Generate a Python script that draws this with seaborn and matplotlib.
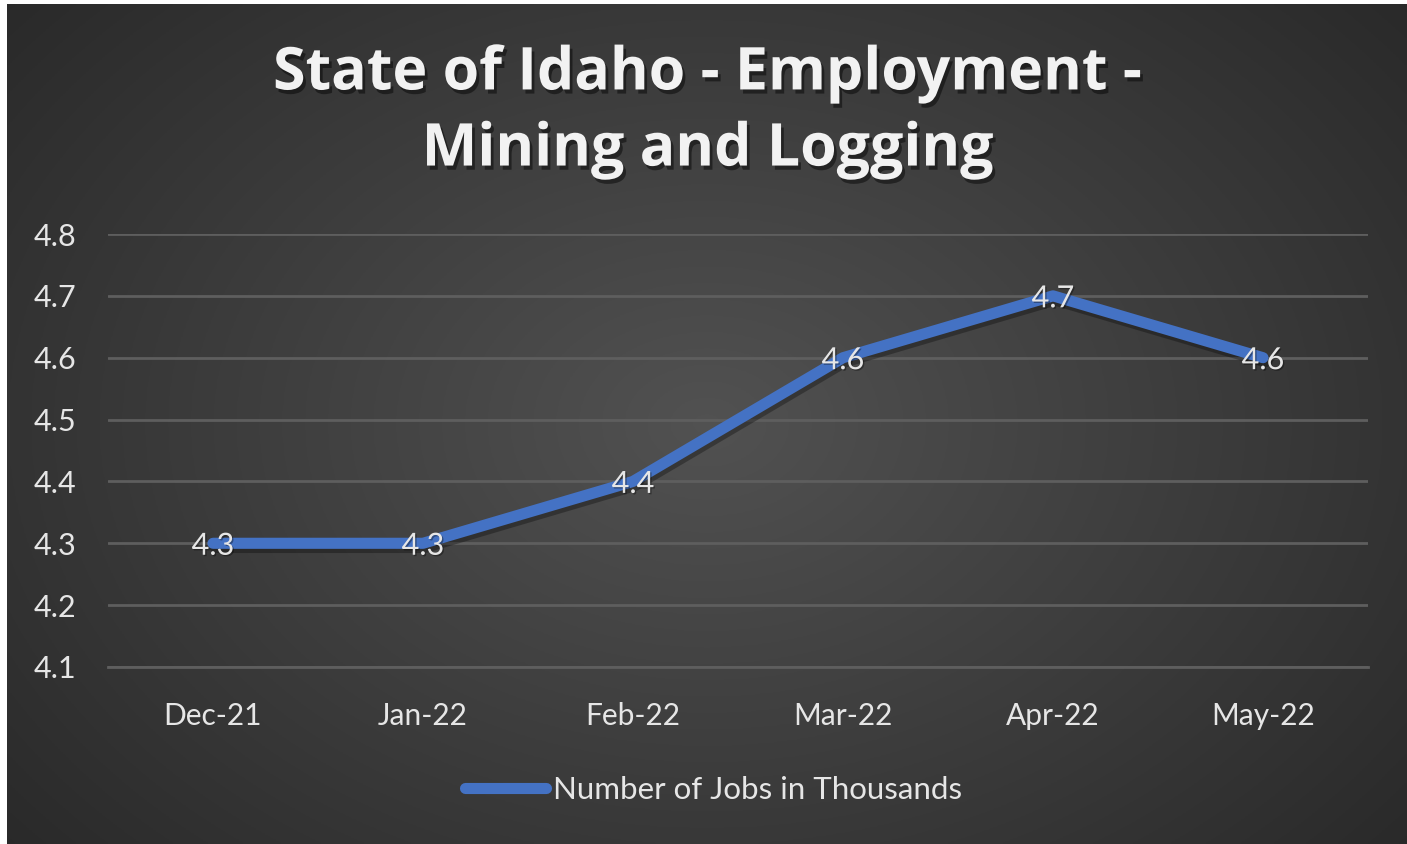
import numpy as np
import pandas as pd
import matplotlib
matplotlib.use("Agg")
import matplotlib.pyplot as plt
import matplotlib.patheffects as pe
from matplotlib.ticker import FixedLocator
import seaborn as sns

# data
months = ["Dec-21", "Jan-22", "Feb-22", "Mar-22", "Apr-22", "May-22"]
jobs = [4.3, 4.3, 4.4, 4.6, 4.7, 4.6]
y_ticks = [4.1, 4.2, 4.3, 4.4, 4.5, 4.6, 4.7, 4.8]
series_name = "Number of Jobs in Thousands"
title = "State of Idaho - Employment -\nMining and Logging"

sns.set_theme(style="dark")
plt.rcParams["font.family"] = ["Lato", "DejaVu Sans"]

BLUE = "#4472C4"
TXT = "#e6e6e6"
GRID = "#5e5e5e"

df = pd.DataFrame({"month": months, "jobs": jobs})
df["x"] = np.arange(len(df))

fig = plt.figure(figsize=(14.07, 8.44), dpi=100)
fig.patch.set_facecolor("white")

# radial gradient background (leaves thin white border top/left)
bg = fig.add_axes([7 / 1407, 0, 1 - 7 / 1407, 1 - 4 / 844])
yy, xx = np.mgrid[0:1:300j, 0:1:500j]
r = np.sqrt(((xx - 0.5) / 0.75) ** 2 + ((yy - 0.5) / 0.9) ** 2)
shade = np.clip(0.32 - 0.18 * r, 0.16, 0.32)
bg.imshow(np.dstack([shade] * 3), aspect="auto", extent=[0, 1, 0, 1], origin="lower")
bg.set_axis_off()
bg.set_zorder(0)

ax = fig.add_axes([108 / 1407, 1 - 667 / 844, 1260 / 1407, 433 / 844])
ax.set_zorder(1)
ax.patch.set_alpha(0)

sns.lineplot(data=df, x="x", y="jobs", ax=ax, color=BLUE, lw=8,
             solid_capstyle="round", solid_joinstyle="round", label=series_name,
             legend=False, clip_on=False,
             path_effects=[pe.SimpleLineShadow(offset=(1.5, -3), shadow_color="black", alpha=0.3),
                           pe.Normal()])

for xi, v in zip(df["x"], df["jobs"]):
    ax.text(xi, v - 0.004, f"{v:.1f}", ha="center", va="center", color=TXT, fontsize=22,
            path_effects=[pe.withSimplePatchShadow(offset=(1, -1), shadow_rgbFace="black", alpha=0.35)],
            zorder=5)

ax.set_xlim(-0.5, len(months) - 0.5)
ax.set_ylim(y_ticks[0], y_ticks[-1])
ax.set_yticks(y_ticks)
ax.set_yticklabels([f"{t:.1f}" for t in y_ticks])
ax.set_xticks(df["x"])
ax.set_xticklabels(months)
ax.xaxis.set_minor_locator(FixedLocator(np.arange(-0.5, len(months), 1.0)))
ax.tick_params(axis="x", which="major", length=0, pad=25, labelsize=21.5, labelcolor=TXT)
ax.tick_params(axis="x", which="minor", length=8, width=2, color=GRID, direction="out")
ax.tick_params(axis="y", length=0, pad=23, labelsize=22, labelcolor=TXT)
ax.set_xlabel("")
ax.set_ylabel("")
ax.grid(axis="y", color=GRID, lw=2)
ax.grid(axis="x", visible=False)
for side in ["top", "left", "right"]:
    ax.spines[side].set_visible(False)
ax.spines["bottom"].set_color(GRID)
ax.spines["bottom"].set_linewidth(2)

fig.text(0.503, 1 - 112 / 844, title, ha="center", va="center", color="#f2f2f2",
         fontsize=42.5, fontweight="bold", family=["Open Sans", "DejaVu Sans"], linespacing=1.38,
         path_effects=[pe.withSimplePatchShadow(offset=(2, -3), shadow_rgbFace="black", alpha=0.45)])

leg = fig.legend(handles=ax.get_lines()[:1], labels=[series_name], loc="center",
                 bbox_to_anchor=(0.507, 1 - 790 / 844), frameon=False, fontsize=22.5,
                 handlelength=2.6, handletextpad=0.2, labelcolor=TXT)
for h in leg.legend_handles:
    h.set_path_effects([pe.Normal()])
    h.set_solid_capstyle("round")

fig.savefig("out.png", dpi=100, facecolor=fig.get_facecolor())
